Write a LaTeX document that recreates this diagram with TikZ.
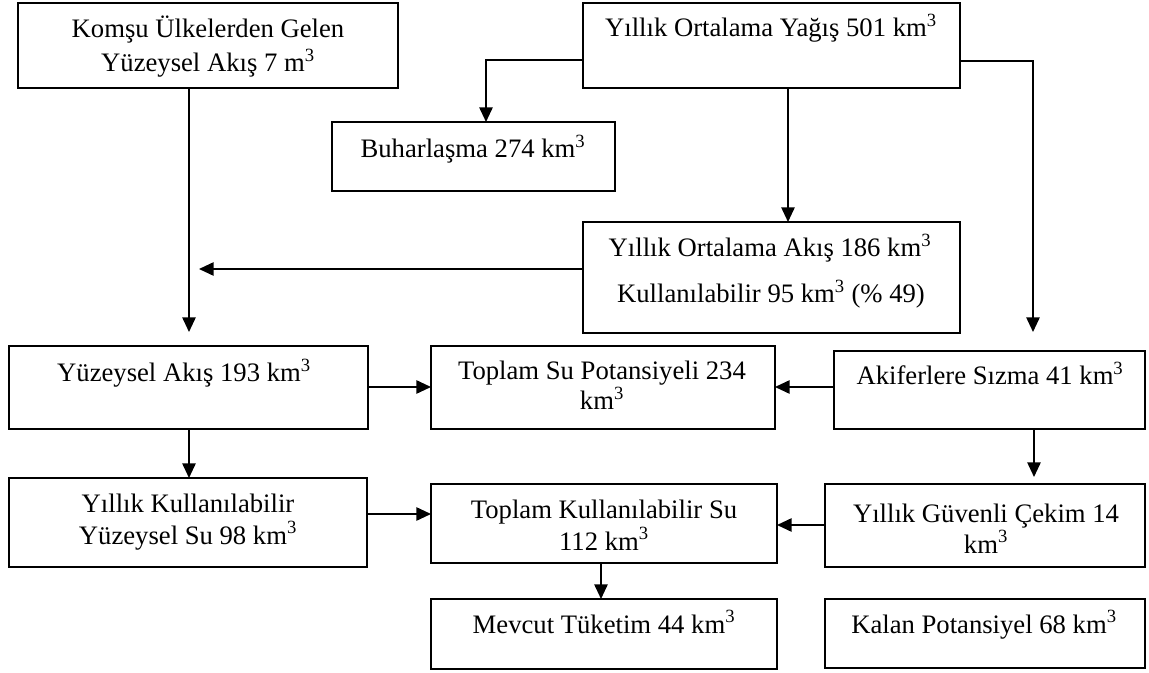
\documentclass[tikz,border=0pt]{standalone}
\usepackage{fontspec}
\setmainfont{Liberation Serif}
\usetikzlibrary{arrows.meta}
\newcommand\sq{\textsuperscript{3}}
\newcommand\mkbox[5]{\node[box, minimum width={(#4-#2)*0.75pt}, minimum height={(#5-#3)*0.75pt}] (#1) at (#2,#3) {};}
\begin{document}
\begin{tikzpicture}[x=0.75pt,y=-0.75pt,
  box/.style={draw, line width=1.3pt, inner sep=0pt, outer sep=0pt, anchor=north west},
  txt/.style={anchor=base, inner sep=0pt, font=\fontsize{20}{24}\selectfont},
  arr/.style={line width=1.3pt, -{Triangle[length=11pt,width=10pt]}}]
\useasboundingbox (0,0) rectangle (1149,673);
% boxes
\mkbox{komsu}{18}{3}{398}{88}
\mkbox{yagis}{583}{3}{960}{88}
\mkbox{buhar}{332}{122}{615}{191}
\mkbox{akis}{583}{222}{960}{333}
\mkbox{yuzey}{9}{346}{368}{429}
\mkbox{topsu}{431}{346}{775}{429}
\mkbox{akifer}{834}{351}{1145}{429}
\mkbox{yillik}{9}{478}{367}{567}
\mkbox{topkul}{431}{484}{777}{563}
\mkbox{guven}{825}{484}{1145}{567}
\mkbox{mevcut}{431}{599}{777}{669}
\mkbox{kalan}{825}{599}{1145}{668}
% texts
\node[txt] (t1a) at (208,38) {Komşu Ülkelerden Gelen};
\node[txt] (t1b) at (208,72) {Yüzeysel Akış 7 m\sq};
\node[txt] (t2) at (771,37) {Yıllık Ortalama Yağış 501 km\sq};
\node[txt] (t3) at (473,158) {Buharlaşma 274 km\sq};
\node[txt] (t4a) at (770,257) {Yıllık Ortalama Akış 186 km\sq};
\node[txt] (t4b) at (771,303) {Kullanılabilir 95 km\sq{} (\% 49)};
\node[txt] (t5) at (184,382) {Yüzeysel Akış 193 km\sq};
\node[txt] (t6a) at (602,380) {Toplam Su Potansiyeli 234};
\node[txt] (t6b) at (602,410) {km\sq};
\node[txt] (t7) at (990,385) {Akiferlere Sızma 41 km\sq};
\node[txt] (t8a) at (188,512) {Yıllık Kullanılabilir};
\node[txt] (t8b) at (188,544) {Yüzeysel Su 98 km\sq};
\node[txt] (t9a) at (604,518) {Toplam Kullanılabilir Su};
\node[txt] (t9b) at (604,550) {112 km\sq};
\node[txt] (t10a) at (986,522) {Yıllık Güvenli Çekim 14};
\node[txt] (t10b) at (986,553) {km\sq};
\node[txt] (t11) at (604,633) {Mevcut Tüketim 44 km\sq};
\node[txt] (t12) at (984,633) {Kalan Potansiyel 68 km\sq};
% helper coordinates
\coordinate (c1) at (486,60);
\coordinate (c2) at (788,0);
\coordinate (c3) at (1033,61);
\coordinate (c3e) at (1033,332);
\coordinate (c4) at (189,332);
\coordinate (c5) at (199,269);
\coordinate (c6) at (0,387);
\coordinate (c7) at (1034,477);
\coordinate (c8) at (0,514);
\coordinate (c9) at (0,525);
\coordinate (c10) at (601,0);
% connectors
\draw[arr] (yagis.west |- c1) -| (buhar.north -| c1);
\draw[arr] (yagis.south -| c2) -- (akis.north -| c2);
\draw[arr] (yagis.east |- c3) -| (c3e);
\draw[arr] (komsu.south -| c4) -- (c4);
\draw[arr] (akis.west |- c5) -- (c5);
\draw[arr] (yuzey.east |- c6) -- (topsu.west |- c6);
\draw[arr] (akifer.west |- c6) -- (topsu.east |- c6);
\draw[arr] (yuzey.south -| c4) -- (yillik.north -| c4);
\draw[arr] (akifer.south -| c7) -- (c7);
\draw[arr] (yillik.east |- c8) -- (topkul.west |- c8);
\draw[arr] (guven.west |- c9) -- (topkul.east |- c9);
\draw[arr] (topkul.south -| c10) -- (mevcut.north -| c10);
\end{tikzpicture}
\end{document}
